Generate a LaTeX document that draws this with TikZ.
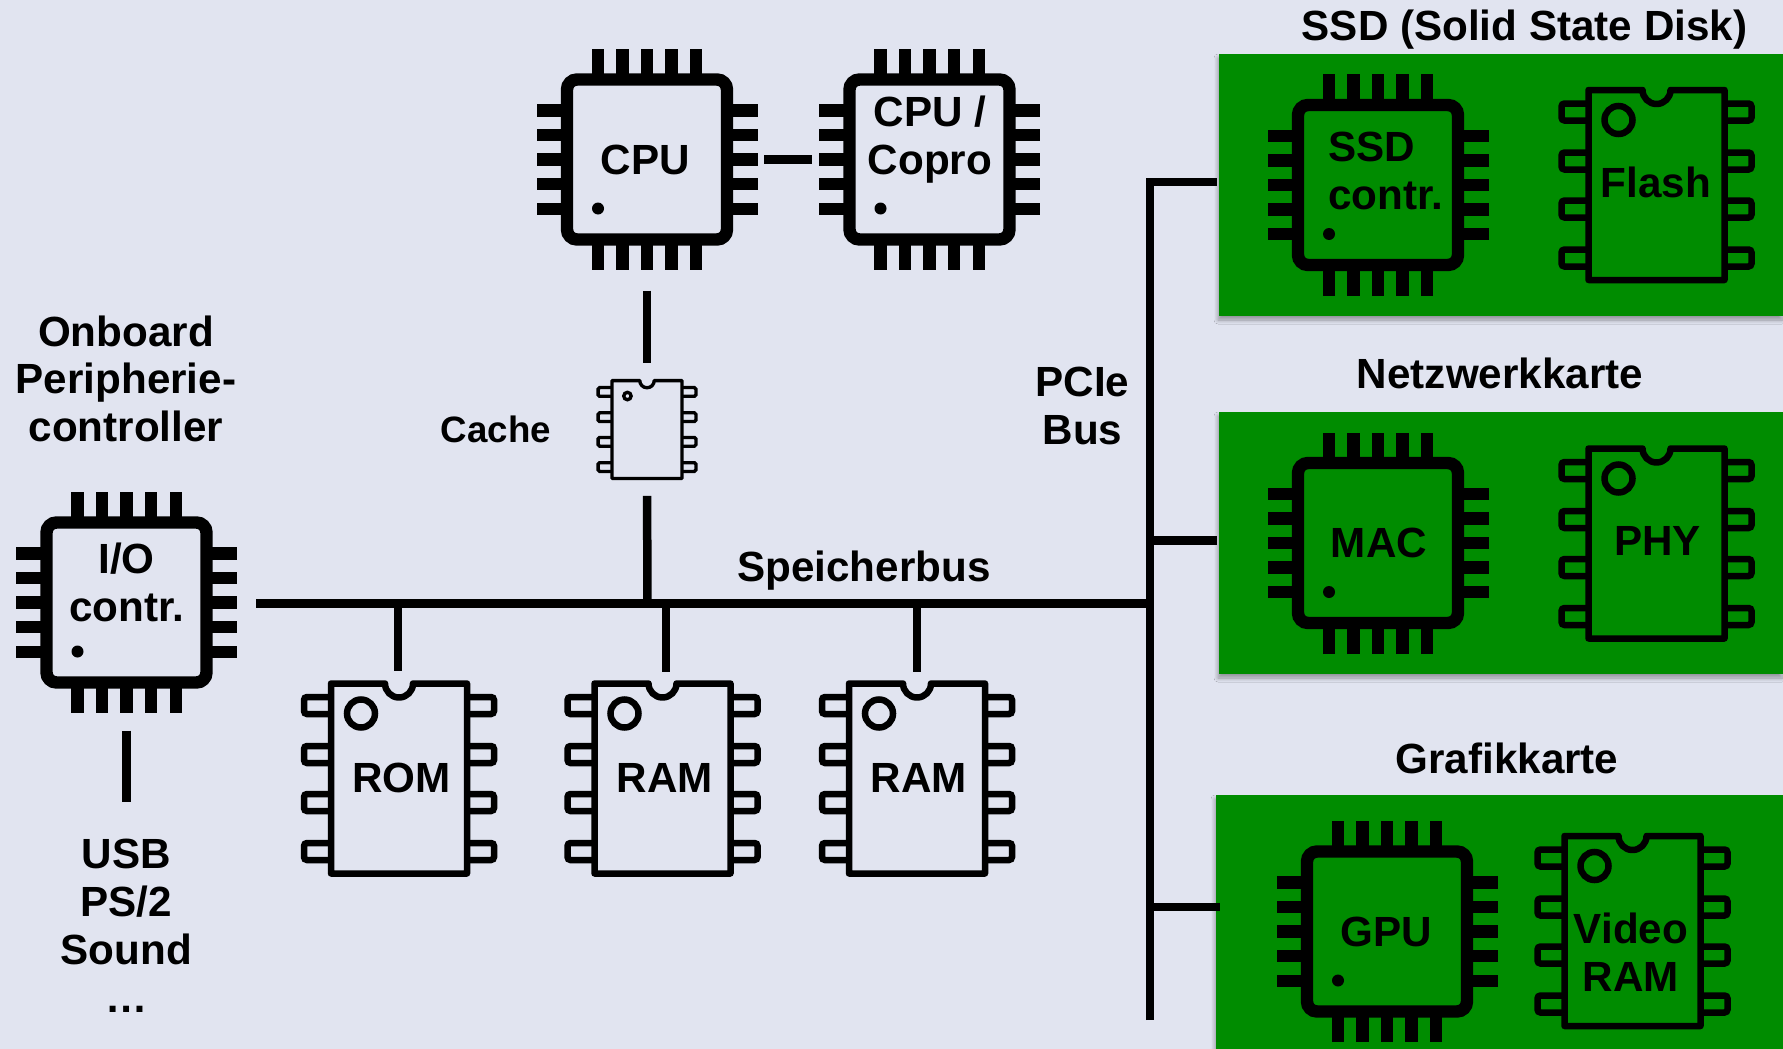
\documentclass[tikz,border=0pt]{standalone}
\usepackage{fontspec}
\setmainfont{Liberation Sans}
\usetikzlibrary{shadows.blur}
\definecolor{bgblue}{HTML}{E1E4F0}
\definecolor{cardgreen}{HTML}{008C00}
\tikzset{
  chipbody/.style={draw,line width=12.4pt,rounded corners=10pt,minimum size=160pt,inner sep=0pt},
  chippin/.style={line width=12.4pt},
  dipbody/.style={inner sep=0pt,outer sep=0pt},
  busline/.style={line width=8.5pt},
  cardbox/.style={fill=cardgreen,anchor=north west,inner sep=0pt,outer sep=0pt,
    blur shadow={shadow xshift=-1pt,shadow yshift=-4pt,shadow blur radius=4pt,shadow blur steps=6,shadow opacity=35}},
  chiptext/.style={font=\bfseries\fontsize{42.2}{47.8}\selectfont,anchor=base,align=center,inner sep=0pt},
  smalltext/.style={font=\bfseries\fontsize{36.7}{42}\selectfont,anchor=base,inner sep=0pt},
}
% square chip with five pins on each side
\newcommand{\quadchip}[2]{%
  \node[chipbody] (#1) at (#2) {};
  \begin{scope}[shift={(#2)}]
    \foreach \p in {-2,...,2} {
      \draw[chippin] (\p*24.6,-80) -- (\p*24.6,-110.5);
      \draw[chippin] (\p*24.6,80) -- (\p*24.6,110.5);
      \draw[chippin] (-80,\p*24.6) -- (-110.5,\p*24.6);
      \draw[chippin] (80,\p*24.6) -- (110.5,\p*24.6);
    }
    \fill (-49,49) circle (6pt);
  \end{scope}}
% memory chip: scale, name, position
\newcommand{\dipchip}[3]{%
  \node[dipbody,minimum width=#1*142pt,minimum height=#1*196pt] (#2) at (#3) {};
  \begin{scope}[shift={(#3)},scale=#1,line width=#1*6.5pt]
    \foreach \p in {-73,-24,24,73} {
      \draw[rounded corners=#1*3pt] (-68,\p-8.5) -- (-95,\p-8.5) -- (-95,\p+8.5) -- (-68,\p+8.5);
      \draw[rounded corners=#1*3pt] (68,\p-8.5) -- (95,\p-8.5) -- (95,\p+8.5) -- (68,\p+8.5);
    }
    \draw[line join=round] (-14,-95) .. controls (-14,-87.3) and (-7.7,-81) .. (0,-81)
      .. controls (7.7,-81) and (14,-87.3) .. (14,-95)
      -- (68,-95) -- (68,95) -- (-68,95) -- (-68,-95) -- cycle;
    \draw (-38,-65) circle ({#1*14pt});
  \end{scope}}
\begin{document}
\begin{tikzpicture}[x=1pt,y=-1pt]
  \fill[bgblue,use as bounding box] (0,0) rectangle (1783,1049);

  % cards
  \node[cardbox,minimum width=564pt,minimum height=262pt] (ssdcard) at (1219,54) {};
  \node[cardbox,minimum width=564pt,minimum height=262pt] (netcard) at (1219,412) {};
  \node[cardbox,minimum width=567pt,minimum height=254pt] (gpucard) at (1216,795) {};

  % chips
  \quadchip{cpu}{647,159.5}
  \quadchip{copro}{929.5,159.5}
  \quadchip{ioctrl}{126.5,602.5}
  \quadchip{ssdctrl}{1378,185}
  \quadchip{mac}{1378,543}
  \quadchip{gpu}{1387,931.5}
  \dipchip{0.515}{cache}{647,429.5}
  \dipchip{1}{rom}{399,778.5}
  \dipchip{1}{rama}{662.5,778.5}
  \dipchip{1}{ramb}{917,778.5}
  \dipchip{1}{flash}{1656.5,185}
  \dipchip{1}{phy}{1656.5,543.5}
  \dipchip{1}{vram}{1632.5,931}

  % bus junctions
  \coordinate (busleft) at (256,603.5);
  \coordinate (busright) at (1150,603.5);
  \coordinate (cachejoin) at (647.5,603.5);
  \coordinate (romjoin) at (398,603.5);
  \coordinate (ramajoin) at (666,603.5);
  \coordinate (rambjoin) at (917,603.5);
  \coordinate (ssdjoin) at (1150,182);
  \coordinate (netjoin) at (1150,540.5);
  \coordinate (gpujoin) at (1150,907);
  \coordinate (pciebottom) at (1150,1020);
  \coordinate (usbend) at (126.5,802);

  % connectors
  \draw[line width=9pt,shorten <=31pt,shorten >=31pt] (cpu) -- (copro);
  \draw[busline,shorten <=45pt,shorten >=16pt] (cpu.south) -- (cache.north);
  \draw[busline,shorten <=16pt] (cache.south) -- (cachejoin);
  \draw[busline] (busleft) -- (busright);
  \draw[busline,shorten >=10pt] (romjoin) -- (romjoin |- rom.north);
  \draw[busline,shorten >=9pt] (ramajoin) -- (ramajoin |- rama.north);
  \draw[busline,shorten >=9pt] (rambjoin) -- (rambjoin |- ramb.north);
  \draw[busline,shorten >=2pt] (pciebottom) -- (ssdjoin) -- (ssdjoin -| ssdcard.west);
  \draw[busline,shorten >=2pt] (netjoin) -- (netjoin -| netcard.west);
  \draw[busline,shorten >=-4pt] (gpujoin) -- (gpujoin -| gpucard.west);
  \draw[line width=9pt,shorten <=42pt] (ioctrl.south) -- (usbend);

  % labels
  \node[chiptext] (cputext) at (645.5,174) {CPU};
  \node[chiptext] (coprotext) at (930,174.5) {CPU /\\Copro};
  \node[chiptext] (iotext) at (126.5,621) {I/O\\contr.};
  \node[chiptext] (romtext) at (401.5,792.5) {ROM};
  \node[chiptext] (ramatext) at (665,792.5) {RAM};
  \node[chiptext] (rambtext) at (919,792.5) {RAM};
  \node[chiptext,align=left] (ssdtext) at (1385.7,209.5) {SSD\\contr.};
  \node[chiptext] (flashtext) at (1656,197.5) {Flash};
  \node[chiptext] (mactext) at (1379,557.5) {MAC};
  \node[chiptext] (phytext) at (1657.5,555) {PHY};
  \node[chiptext] (gputext) at (1386,946.5) {GPU};
  \node[chiptext] (vramtext) at (1631,991.5) {Video\\RAM};
  \node[smalltext] (cachetext) at (496,442) {Cache};
  \node[chiptext] (onboardtext) at (126,441.7) {Onboard\\Peripherie-\\controller};
  \node[chiptext] (usbtext) at (126.3,1012) {USB\\PS/2\\Sound\\…};
  \node[chiptext] (speichertext) at (864,581) {Speicherbus};
  \node[chiptext] (pcietext) at (1082.5,444) {PCIe\\Bus};
  \node[chiptext] (ssdtitle) at (1524.5,40.7) {SSD (Solid State Disk)};
  \node[chiptext] (nettitle) at (1500,388) {Netzwerkkarte};
  \node[chiptext] (gputitle) at (1507,773) {Grafikkarte};
\end{tikzpicture}
\end{document}
